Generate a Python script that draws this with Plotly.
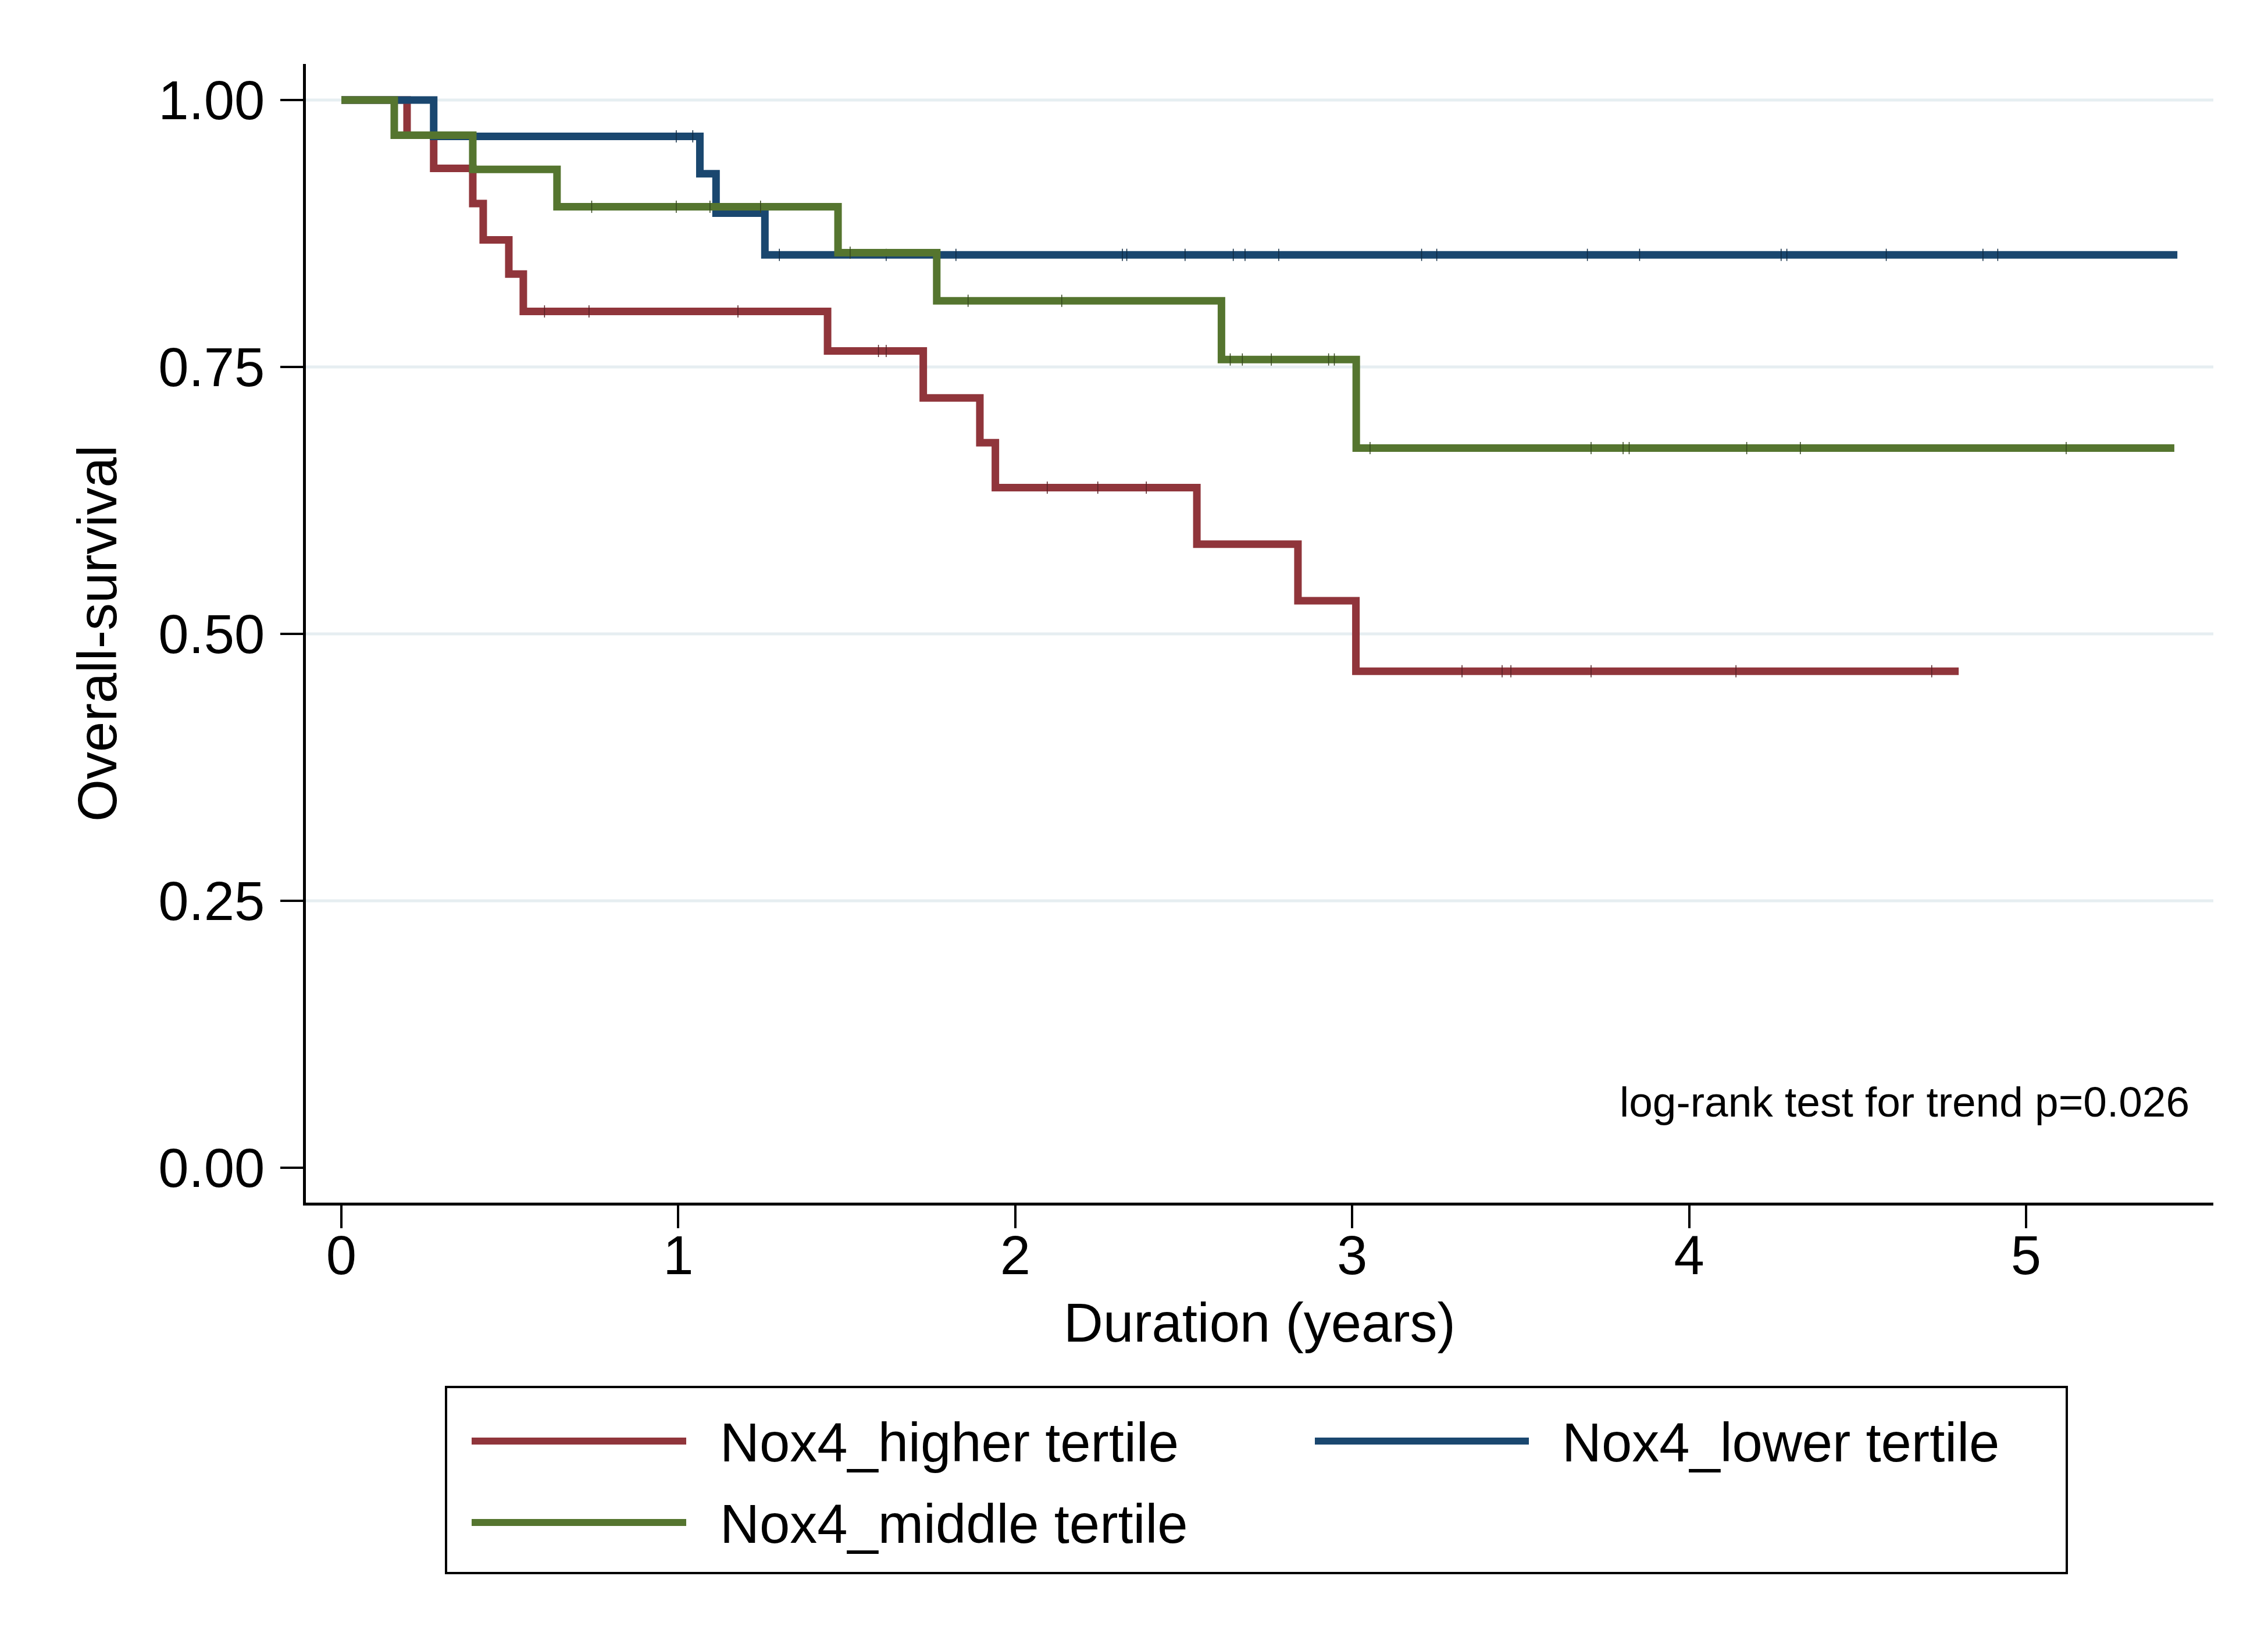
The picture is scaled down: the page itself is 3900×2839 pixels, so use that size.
import plotly.graph_objects as go

# ---------------- data ----------------
group_names = ["Nox4_higher tertile", "Nox4_lower tertile", "Nox4_middle tertile"]
group_colors = ["#90353b", "#1a476f", "#55752f"]

# Kaplan-Meier step functions (time in years, survival)
higher_time = [0, 0.195, 0.274, 0.39, 0.421, 0.497, 0.54, 1.443, 1.727, 1.895, 1.941, 2.539, 2.839, 3.011, 4.80]
higher_surv = [1.0, 0.967, 0.936, 0.903, 0.869, 0.837, 0.802, 0.765, 0.721, 0.679, 0.637, 0.584, 0.531, 0.465, 0.465]
higher_censored = [0.603, 0.735, 1.177, 1.594, 1.617, 2.095, 2.245, 2.389, 3.326, 3.445, 3.471, 3.709, 4.139, 4.72]

lower_time = [0, 0.274, 1.064, 1.112, 1.257, 5.449]
lower_surv = [1.0, 0.966, 0.931, 0.894, 0.855, 0.855]
lower_censored = [0.994, 1.043, 1.30, 1.617, 1.824, 2.318, 2.331, 2.504, 2.647, 2.682, 2.782,
                  3.206, 3.251, 3.698, 3.853, 4.273, 4.29, 4.585, 4.872, 4.916]

middle_time = [0, 0.157, 0.39, 0.64, 1.474, 1.767, 2.612, 3.012, 5.44]
middle_surv = [1.0, 0.967, 0.935, 0.900, 0.857, 0.812, 0.757, 0.674, 0.674]
middle_censored = [0.743, 0.994, 1.094, 1.244, 1.51, 1.86, 2.138, 2.638, 2.674, 2.76, 2.93, 2.947,
                   3.053, 3.709, 3.804, 3.822, 4.171, 4.33, 5.119]

x_ticks = [0, 1, 2, 3, 4, 5]
y_ticks = [0, 0.25, 0.5, 0.75, 1.0]
y_tick_labels = ["0.00", "0.25", "0.50", "0.75", "1.00"]

x_title = "Duration (years)"
y_title = "Overall-survival"
note_text = "log-rank test for trend p=0.026"
note_x, note_y = 5.488, 0.062

# ---------------- layout geometry ----------------
FIG_W, FIG_H = 3900, 2839
L, R, T, B = 518, 3798, 102, 2060
PW, PH = R - L, B - T
FONT = "Liberation Sans, Arial, Helvetica, sans-serif"


def px_x(px):
    return (px - L) / PW


def px_y(py):
    return (B - py) / PH


def step_value(times, surv, t):
    val = surv[0]
    for ti, si in zip(times, surv):
        if ti <= t:
            val = si
    return val


def darker(hexcol, f=0.6):
    h = hexcol.lstrip("#")
    r, g, b = (int(h[i:i + 2], 16) for i in (0, 2, 4))
    return "rgb(%d,%d,%d)" % (r * f, g * f, b * f)


series = [
    (higher_time, higher_surv, higher_censored),
    (lower_time, lower_surv, lower_censored),
    (middle_time, middle_surv, middle_censored),
]

fig = go.Figure()
for (t, s, cens), name, col in zip(series, group_names, group_colors):
    fig.add_trace(go.Scatter(
        x=t, y=s, mode="lines", name=name, showlegend=False,
        line=dict(shape="hv", width=13, color=col),
    ))
    fig.add_trace(go.Scatter(
        x=cens, y=[step_value(t, s, c) for c in cens], mode="markers",
        showlegend=False, hoverinfo="skip",
        marker=dict(symbol="line-ns", size=15, color=col,
                    line=dict(width=1.5, color=darker(col))),
    ))

shapes = []
# horizontal grid lines (not at zero)
for v in y_ticks:
    if v > 0:
        shapes.append(dict(type="line", xref="paper", yref="y", x0=0, x1=1, y0=v, y1=v,
                           line=dict(color="#e6eef1", width=5), layer="below"))

# legend box
shapes.append(dict(type="rect", xref="paper", yref="paper",
                   x0=px_x(759), x1=px_x(3546), y0=px_y(2697), y1=px_y(2377),
                   line=dict(color="black", width=4), fillcolor="white"))

legend_slots = [  # (line x0, line x1, text x, y) in pixels
    (803, 1172, 1228, 2470),
    (2253, 2621, 2676, 2470),
    (803, 1172, 1228, 2610),
]
annotations = []
for (lx0, lx1, tx, ly), name, col in zip(legend_slots, group_names, group_colors):
    shapes.append(dict(type="line", xref="paper", yref="paper",
                       x0=px_x(lx0), x1=px_x(lx1), y0=px_y(ly), y1=px_y(ly),
                       line=dict(color=col, width=12)))
    annotations.append(dict(xref="paper", yref="paper", x=px_x(tx), y=px_y(ly + 2),
                            xanchor="left", yanchor="middle", showarrow=False, text=name,
                            font=dict(family=FONT, size=94, color="black")))

annotations.append(dict(xref="x", yref="y", x=note_x, y=note_y, xanchor="right", yanchor="middle",
                        showarrow=False, text=note_text,
                        font=dict(family=FONT, size=73, color="black")))
annotations.append(dict(xref="paper", yref="paper", x=0.5, y=px_y(2266), xanchor="center",
                        yanchor="middle", showarrow=False, text=x_title,
                        font=dict(family=FONT, size=94, color="black")))
annotations.append(dict(xref="paper", yref="paper", x=px_x(159), y=0.5, xanchor="center",
                        yanchor="middle", showarrow=False, text=y_title, textangle=-90,
                        font=dict(family=FONT, size=94, color="black")))

fig.update_layout(
    width=FIG_W, height=FIG_H,
    margin=dict(l=L, r=FIG_W - R, t=T, b=FIG_H - B, pad=0),
    paper_bgcolor="white", plot_bgcolor="white",
    font=dict(family=FONT, size=94, color="black"),
    shapes=shapes, annotations=annotations,
    showlegend=False,
)
fig.update_xaxes(
    range=[(L - 579) / 579.4, (R - 579) / 579.4], tickvals=x_ticks,
    ticks="outside", ticklen=39, tickwidth=4, tickcolor="black",
    showline=True, linewidth=5, linecolor="black", mirror=False,
    showgrid=False, zeroline=False,
    tickfont=dict(family=FONT, size=94, color="black"), ticklabelstandoff=-34,
)
fig.update_yaxes(
    range=[(2000 - B) / 1836, (2000 - T) / 1836], tickvals=y_ticks, ticktext=y_tick_labels,
    ticks="outside", ticklen=39, tickwidth=4, tickcolor="black",
    showline=True, linewidth=5, linecolor="black", mirror=False,
    showgrid=False, zeroline=False,
    tickfont=dict(family=FONT, size=94, color="black"), ticklabelstandoff=8,
)

fig.write_html("out.html")
